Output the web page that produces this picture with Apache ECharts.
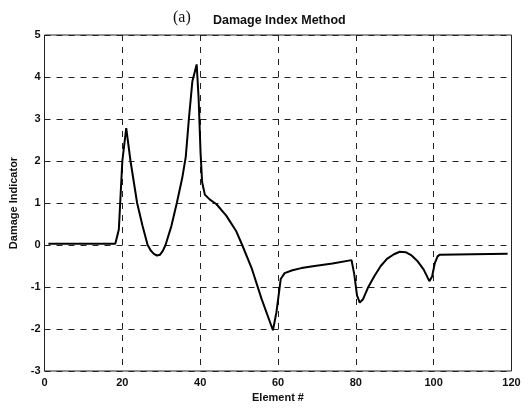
<!DOCTYPE html>
<html><head><meta charset="utf-8">
<script src="https://cdn.jsdelivr.net/npm/echarts@6/dist/echarts.min.js"></script>
<style>html,body{margin:0;padding:0;background:#fff;}#c{width:532px;height:411px;}</style>
</head><body><div id="c"></div>
<script>
var elementX = [1, 18.2, 19.1, 20.0, 21.0, 22.1, 23.8, 25.2, 26.5, 27.3, 28.1, 28.9, 29.7, 30.4, 31.1, 32.6, 34.0, 35.4, 36.3, 37.1, 38.0, 39.1, 39.6, 40.1, 40.5, 41.2, 42.5, 44.2, 46.7, 49.2, 50.8, 53.3, 55.8, 58.7, 59.6, 60.7, 61.7, 63.7, 66, 69.4, 74, 78.9, 79.6, 80.3, 81, 81.8, 83.1, 84.7, 86.4, 88, 89.8, 91.3, 92.8, 94.2, 95.8, 97.4, 98.9, 99.6, 100.3, 101.0, 101.6, 110, 119];
var damage = [0.03, 0.03, 0.37, 2.0, 2.78, 2.0, 1.0, 0.45, 0.0, -0.13, -0.21, -0.25, -0.23, -0.14, 0.0, 0.45, 1.0, 1.6, 2.1, 3.0, 3.9, 4.3, 3.5, 2.2, 1.5, 1.2, 1.08, 0.97, 0.70, 0.34, 0.0, -0.57, -1.29, -2.03, -1.6, -0.81, -0.67, -0.6, -0.55, -0.5, -0.44, -0.36, -0.7, -1.2, -1.37, -1.3, -1.02, -0.75, -0.5, -0.33, -0.22, -0.16, -0.17, -0.24, -0.38, -0.58, -0.86, -0.75, -0.43, -0.27, -0.23, -0.22, -0.21];
var xTicks = [0, 20, 40, 60, 80, 100, 120];
var yTicks = [-3, -2, -1, 0, 1, 2, 3, 4, 5];

var pts = elementX.map(function (x, i) { return [x, damage[i]]; });
var chart = echarts.init(document.getElementById('c'));
var lbl = {fontFamily: 'Liberation Sans, Arial, sans-serif', fontSize: 11, fontWeight: 'bold', color: '#111'};
var split = {show: true, lineStyle: {color: '#222', width: 1, type: [6, 6]}};
chart.setOption({
  animation: false,
  backgroundColor: '#fff',
  title: [
    {text: '(a)', left: 168, top: 5, textStyle: {fontFamily: 'Liberation Serif, Times New Roman, serif', fontSize: 16, fontWeight: 'normal', color: '#111'}},
    {text: 'Damage Index Method', left: 208, top: 9, textStyle: {fontFamily: 'Liberation Sans, Arial, sans-serif', fontSize: 12.5, fontWeight: 'bold', color: '#111'}}
  ],
  grid: {left: 44.5, right: 20.5, top: 35, bottom: 40, show: true, borderColor: '#222', borderWidth: 1, backgroundColor: 'transparent'},
  xAxis: {
    type: 'value', min: 0, max: 120, interval: 20,
    name: 'Element #', nameLocation: 'middle', nameGap: 21, nameTextStyle: lbl,
    axisLine: {show: false}, axisTick: {show: false},
    axisLabel: Object.assign({margin: 6}, lbl),
    splitLine: split
  },
  yAxis: {
    type: 'value', min: -3, max: 5, interval: 1,
    name: 'Damage Indicator', nameLocation: 'middle', nameGap: 24, nameTextStyle: lbl,
    axisLine: {show: false}, axisTick: {show: false},
    axisLabel: Object.assign({margin: 4}, lbl),
    splitLine: split
  },
  series: [{
    type: 'line', data: pts, showSymbol: false, symbol: 'none',
    lineStyle: {color: '#000', width: 2}, smooth: false
  }]
});
</script></body></html>
